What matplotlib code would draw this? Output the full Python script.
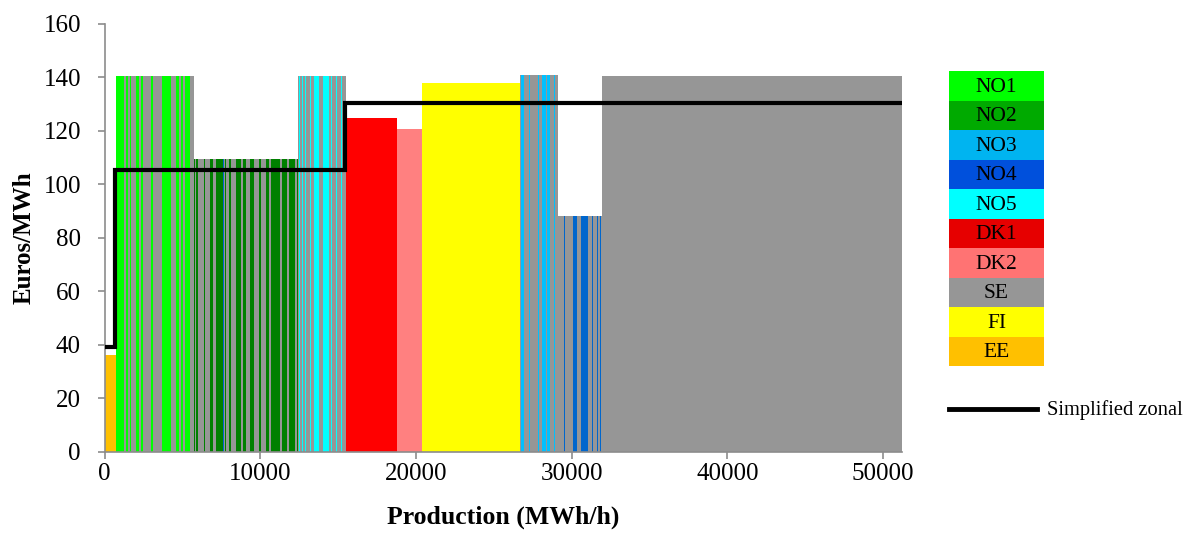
import matplotlib
matplotlib.use('Agg')
import matplotlib.pyplot as plt
from matplotlib.lines import Line2D
import numpy as np

plt.rcParams['font.family'] = ['Liberation Serif', 'DejaVu Serif']

# ---------------- data ----------------
zone_colors = {'NO1': '#00FF00', 'NO2': '#008000', 'NO3': '#00C0FF', 'NO4': '#0066CC',
               'NO5': '#00FFFF', 'DK1': '#FF0000', 'DK2': '#FF8080', 'SE': '#969696',
               'FI': '#FFFF00', 'EE': '#FFC000'}
legend_zones = ['NO1', 'NO2', 'NO3', 'NO4', 'NO5', 'DK1', 'DK2', 'SE', 'FI', 'EE']
legend_colors = ['#00FF00', '#00AA00', '#00B4F0', '#0050DC', '#00FFFF',
                 '#E60000', '#FF7373', '#969696', '#FFFF00', '#FFC000']

# merit-order blocks: price (EUR/MWh), zones and widths (MWh/h) of the segments
ee_price = 36.1
ee_zones = ['EE']
ee_widths = [715]

no1_price = 140.6
no1_zones = ['NO1', 'SE', 'NO1', 'SE', 'NO1', 'SE', 'NO1', 'SE', 'NO1', 'SE', 'NO1',
             'SE', 'NO3', 'NO1', 'SE', 'NO1', 'SE', 'NO1', 'SE', 'NO1', 'SE']
no1_widths = [514, 128, 148, 109, 109, 276, 212, 154, 103, 539, 103,
              559, 45, 578, 276, 212, 109, 148, 109, 366, 231]

no2_price = 109.6
no2_zones = ['NO2', 'SE', 'NO2', 'SE', 'NO2', 'SE', 'NO2', 'SE', 'NO2', 'NO4', 'SE',
             'NO2', 'SE', 'NO2', 'SE', 'NO2', 'SE', 'NO2', 'SE', 'NO2', 'SE', 'NO2',
             'SE', 'NO2', 'SE', 'NO2', 'SE', 'NO2', 'SE', 'NO2', 'SE', 'NO2']
no2_widths = [45, 64, 148, 366, 109, 276, 212, 173, 469, 45, 64,
              109, 167, 154, 276, 366, 103, 218, 212, 276, 321, 109,
              321, 212, 109, 578, 173, 321, 103, 366, 148, 90]

no5_price = 140.6
no5_zones = ['SE', 'NO5', 'SE', 'NO5', 'SE', 'NO5', 'SE', 'NO5', 'SE', 'NO5',
             'SE', 'NO5', 'SE', 'NO5', 'SE', 'NO5', 'SE', 'NO5', 'SE']
no5_widths = [39, 64, 109, 83, 154, 64, 212, 64, 212, 321,
              257, 385, 154, 64, 257, 64, 257, 64, 257]

dk1_price = 124.7
dk1_zones = ['DK1']
dk1_widths = [3270]

dk2_price = 120.6
dk2_zones = ['DK2']
dk2_widths = [1560]

fi_price = 138.0
fi_zones = ['FI']
fi_widths = [6330]

no3_price = 140.9
no3_zones = ['SE', 'NO3', 'SE', 'NO3', 'SE', 'NO3', 'SE', 'NO3', 'SE', 'NO3', 'SE', 'NO3', 'SE']
no3_widths = [64, 167, 366, 64, 469, 109, 148, 282, 64, 212, 212, 90, 193]

no4_price = 88.2
no4_zones = ['SE', 'NO4', 'SE', 'NO4', 'SE', 'NO4', 'SE', 'NO4', 'SE', 'NO4', 'SE', 'NO4', 'SE']
no4_widths = [404, 64, 469, 257, 282, 424, 282, 64, 257, 83, 128, 64, 45]

se_price = 140.6
se_zones = ['SE']
se_widths = [19280]

# simplified zonal price curve (step)
zonal_x = [0, 668, 15420, 51230]
zonal_price = [39.0, 105.4, 130.6, 130.6]

x_ticks = [0, 10000, 20000, 30000, 40000, 50000]
y_ticks = [0, 20, 40, 60, 80, 100, 120, 140, 160]

blocks = [(ee_price, ee_zones, ee_widths), (no1_price, no1_zones, no1_widths),
          (no2_price, no2_zones, no2_widths), (no5_price, no5_zones, no5_widths),
          (dk1_price, dk1_zones, dk1_widths), (dk2_price, dk2_zones, dk2_widths),
          (fi_price, fi_zones, fi_widths), (no3_price, no3_zones, no3_widths),
          (no4_price, no4_zones, no4_widths), (se_price, se_zones, se_widths)]

# ---------------- figure ----------------
W, H = 1190, 536
fig = plt.figure(figsize=(W / 100, H / 100), dpi=100)
ax = fig.add_axes([104.6 / W, 1 - 451.7 / H, (902.3 - 104.6) / W, (451.7 - 24) / H])

lefts, heights, widths, colors = [], [], [], []
pos = 0
for price, zones, ws in blocks:
    for z, w in zip(zones, ws):
        lefts.append(pos)
        heights.append(price)
        widths.append(w)
        colors.append(zone_colors[z])
        pos += w
ax.bar(lefts, heights, width=widths, align='edge', color=colors, linewidth=0)

ax.step(zonal_x, zonal_price, where='post', color='black', linewidth=3.0,
        solid_joinstyle='miter', zorder=5)

ax.set_xlim(0, zonal_x[-1])
ax.set_ylim(0, 160)
ax.set_xticks(x_ticks)
ax.set_yticks(y_ticks)
ax.set_xticklabels([str(v) for v in x_ticks])
ax.set_yticklabels([str(v) for v in y_ticks])
for s in ['top', 'right']:
    ax.spines[s].set_visible(False)
for s in ['left', 'bottom']:
    ax.spines[s].set_color('#8c8c8c')
    ax.spines[s].set_linewidth(1.2)
ax.tick_params(axis='both', colors='#8c8c8c', labelcolor='black', labelsize=18,
               length=5, width=1.2, direction='out')
ax.tick_params(axis='x', pad=3)
ax.tick_params(axis='y', pad=12)

ax.set_xlabel('Production (MWh/h)', fontsize=18.5, fontweight='bold', labelpad=15)
ax.set_ylabel('Euros/MWh', fontsize=18, fontweight='bold', labelpad=6)

# ---------------- legend table ----------------
lx0, lx1 = 949, 1044
ly0, ly1 = 71, 366
lax = fig.add_axes([lx0 / W, 1 - ly1 / H, (lx1 - lx0) / W, (ly1 - ly0) / H])
lax.set_xlim(0, 1)
lax.set_ylim(len(legend_zones), 0)
lax.axis('off')
for i, (z, c) in enumerate(zip(legend_zones, legend_colors)):
    lax.barh(i, 1, height=1, left=0, align='edge', color=c, linewidth=0)
    lax.text(0.5, i + 0.55, z, ha='center', va='center', fontsize=15.5, color='black')

fig.add_artist(Line2D([949 / W, 1037 / W], [1 - 409 / H, 1 - 409 / H],
                      color='black', linewidth=3.5, transform=fig.transFigure))
fig.text(1047 / W, 1 - 410 / H, 'Simplified zonal', fontsize=14.8, ha='left', va='center')

fig.savefig('out.png', dpi=100)
